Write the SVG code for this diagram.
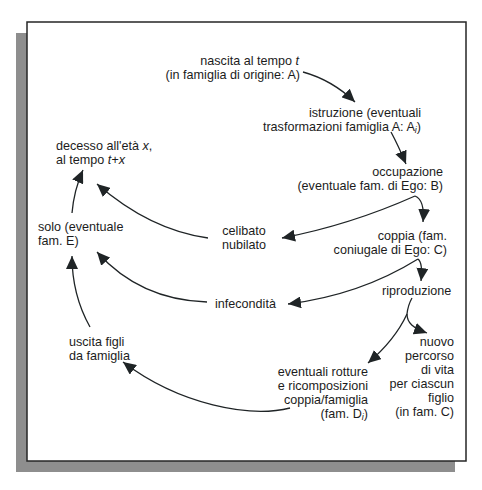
<svg xmlns="http://www.w3.org/2000/svg" width="482" height="490" viewBox="0 0 482 490">
<style>
text{font-family:"Liberation Sans",Arial,Helvetica,sans-serif;font-size:12.6px;fill:#1c1c1c}
.e{text-anchor:end}
.m{text-anchor:middle}
.it{font-style:italic}
.sub{font-style:italic;font-size:9px}
.c{fill:none;stroke:#1f2426;stroke-width:1.3;marker-end:url(#ah)}
</style>
<defs>
<marker id="ah" markerUnits="userSpaceOnUse" markerWidth="14" markerHeight="12" refX="13" refY="6" orient="auto">
<path d="M0,0 L13,6 L0,12 Z" fill="#1f2426"/>
</marker>
</defs>
<rect x="0" y="0" width="482" height="490" fill="#ffffff"/>
<rect id="shadow" x="16" y="33" width="439" height="439" fill="#8e8e8e"/>
<rect id="frame" x="27" y="22" width="439" height="439" fill="#ffffff" stroke="#262626" stroke-width="1.5"/>

<g id="connectors">
<path class="c" d="M303,72 Q332,80 355,102"/>
<path class="c" d="M391,132 Q398,145 406,164"/>
<path class="c" d="M415,196 Q425,200 423,222"/>
<path class="c" d="M415,196 Q350,225 282,238"/>
<path class="c" d="M208,238 Q150,230 97,184"/>
<path class="c" d="M72,213 Q74,190 83,170"/>
<path class="c" d="M207,302 Q140,300 97,252"/>
<path class="c" d="M418,259 Q423,263 421,281"/>
<path class="c" d="M418,259 Q360,295 288,304"/>
<path class="c" d="M90,327 Q72,295 72,256"/>
<path fill="none" stroke="#1f2426" stroke-width="1.3" d="M412,298 Q408,305 407,314"/>
<path class="c" d="M407,314 C407,323 413,328 427,333"/>
<path class="c" d="M407,314 Q395,340 368,363"/>
<path class="c" d="M290,408 C250,418 180,405 123,362"/>
</g>

<g id="nascita">
<text class="e" x="299" y="64.5">nascita al tempo <tspan class="it">t</tspan></text>
<text class="e" x="300" y="78.5">(in famiglia di origine: A)</text>
</g>
<g id="istruzione">
<text class="e" x="421" y="116.5">istruzione (eventuali</text>
<text class="e" x="421" y="130.5">trasformazioni famiglia A: A<tspan class="sub" dy="2">i</tspan><tspan dy="-2">)</tspan></text>
</g>
<g id="occupazione">
<text class="e" x="443" y="175.5">occupazione</text>
<text class="e" x="443" y="189.5">(eventuale fam. di Ego: B)</text>
</g>
<g id="decesso">
<text x="56" y="149.5">decesso all'età <tspan class="it">x</tspan>,</text>
<text x="56" y="163.5">al tempo <tspan class="it">t+x</tspan></text>
</g>
<g id="solo">
<text x="38" y="230.5">solo (eventuale</text>
<text x="38" y="244.5">fam. E)</text>
</g>
<g id="celibato">
<text class="m" x="244" y="234.5">celibato</text>
<text class="m" x="244" y="248.5">nubilato</text>
</g>
<g id="coppia">
<text class="e" x="447" y="239.5">coppia (fam.</text>
<text class="e" x="447" y="253.5">coniugale di Ego: C)</text>
</g>
<g id="riproduzione">
<text x="382" y="295">riproduzione</text>
</g>
<g id="infecondita">
<text x="215" y="308">infecondità</text>
</g>
<g id="uscita">
<text x="69" y="345.5">uscita figli</text>
<text x="69" y="359.5">da famiglia</text>
</g>
<g id="nuovo">
<text class="e" x="454" y="345.5">nuovo</text>
<text class="e" x="454" y="359.5">percorso</text>
<text class="e" x="454" y="373.5">di vita</text>
<text class="e" x="454" y="387.5">per ciascun</text>
<text class="e" x="454" y="401.5">figlio</text>
<text class="e" x="454" y="415.5">(in fam. C)</text>
</g>
<g id="rotture">
<text class="e" x="368" y="375.5">eventuali rotture</text>
<text class="e" x="368" y="389.5">e ricomposizioni</text>
<text class="e" x="368" y="403.5">coppia/famiglia</text>
<text class="e" x="368" y="417.5">(fam. D<tspan class="sub" dy="2">i</tspan><tspan dy="-2">)</tspan></text>
</g>
</svg>
